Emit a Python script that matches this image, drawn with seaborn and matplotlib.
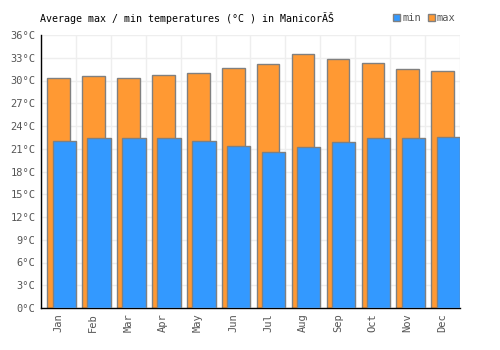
import numpy as np
import pandas as pd
import seaborn as sns
import matplotlib.pyplot as plt
from matplotlib.patches import Patch

months = ['Jan', 'Feb', 'Mar', 'Apr', 'May', 'Jun',
          'Jul', 'Aug', 'Sep', 'Oct', 'Nov', 'Dec']
t_max = [30.3, 30.6, 30.3, 30.7, 31.0, 31.6, 32.2, 33.5, 32.8, 32.3, 31.5, 31.3]
t_min = [22.0, 22.4, 22.4, 22.4, 22.0, 21.4, 20.6, 21.2, 21.9, 22.4, 22.4, 22.5]
y_ticks = list(range(0, 37, 3))

blue = '#3399ff'
orange = '#ff9933'
edge = '#808080'

df = pd.DataFrame({'month': months, 'max': t_max, 'min': t_min})

sns.set_style('white')
plt.rcParams['font.family'] = ['DejaVu Sans Mono']

fig = plt.figure(figsize=(5, 3.5), dpi=100)
ax = fig.add_axes([0.082, 0.12, 0.838, 0.78])

# max bars first, then min bars on top, shifted right
sns.barplot(data=df, x='month', y='max', color=orange, width=0.65,
            edgecolor=edge, linewidth=1, saturation=1, ax=ax, zorder=2)
n = len(ax.patches)
sns.barplot(data=df, x='month', y='min', color=blue, width=0.67,
            edgecolor=edge, linewidth=1, saturation=1, ax=ax, zorder=3)
for p in ax.patches[:n]:
    p.set_x(p.get_x() + 0.005)
for p in ax.patches[n:]:
    p.set_x(p.get_x() + 0.165)

ax.set_xlim(-0.5, 11.5)
ax.set_ylim(0, 36)
ax.set_yticks(y_ticks)
ax.set_yticklabels([f'{v}°C' for v in y_ticks])
ax.set_xticks(range(12))
ax.set_xticklabels(months, rotation=90)
ax.tick_params(axis='both', colors='#555555', labelsize=7.5, length=0, pad=4)
ax.set_xlabel('')
ax.set_ylabel('')

# grid: horizontal at each tick, vertical at category boundaries
for v in y_ticks:
    ax.axhline(v, color='#eeeeee', lw=1, zorder=0)
for b in np.arange(-0.5, 12, 1):
    ax.axvline(b, color='#eeeeee', lw=1, zorder=0)

for s in ['top', 'right']:
    ax.spines[s].set_visible(False)
for s in ['left', 'bottom']:
    ax.spines[s].set_color('black')
    ax.spines[s].set_linewidth(1)

fig.text(0.08, 0.948, 'Average max / min temperatures (°C ) in ManicorÃŠ',
         fontsize=7.2, color='black', ha='left', va='center')

handles = [Patch(facecolor=blue, edgecolor=edge, label='min'),
           Patch(facecolor=orange, edgecolor=edge, label='max')]
fig.legend(handles=handles, loc='center right', bbox_to_anchor=(0.93, 0.948),
           ncol=2, frameon=False, fontsize=7.5, handlelength=0.7,
           handleheight=0.7, handletextpad=0.2, columnspacing=0.6,
           labelcolor='#555555')

fig.savefig('out.png', dpi=100)
